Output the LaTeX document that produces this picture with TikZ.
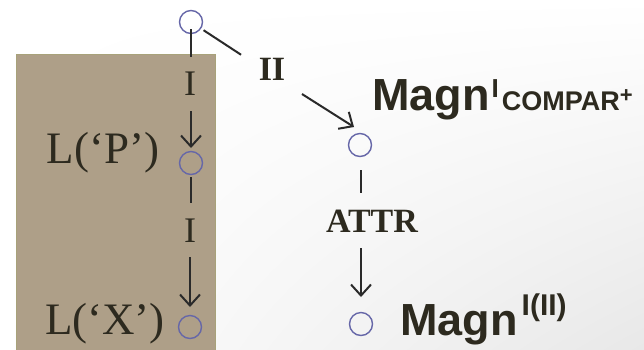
\documentclass[tikz,border=0pt]{standalone}
\usepackage{fontspec}
\setmainfont{Liberation Serif}
\newfontfamily\sansb{Liberation Sans}
\usetikzlibrary{arrows.meta,shadings}
\definecolor{ink}{HTML}{2D2A1F}
\definecolor{ringc}{HTML}{6667A8}
\definecolor{boxfill}{HTML}{AE9F88}
\definecolor{boxedge}{HTML}{A8A27A}
\definecolor{linec}{HTML}{2A2A2A}
\tikzset{
  ring/.style={circle, draw=ringc, line width=1.4pt, minimum size=23pt, inner sep=0pt},
  conn/.style={draw=linec, line width=2pt},
  arr/.style={conn, -{Straight Barb[length=11pt,width=20pt,line width=2pt]}},
  rlbl/.style={inner sep=0pt, anchor=base, text=ink, font=\fontsize{36}{40}\selectfont},
  blbl/.style={inner sep=0pt, anchor=base, text=ink, font=\fontsize{34}{38}\selectfont\bfseries},
  biglbl/.style={inner sep=0pt, anchor=base, text=ink, font=\fontsize{45}{50}\selectfont},
  magn/.style={inner sep=0pt, anchor=base west, text=ink, font=\sansb\bfseries\fontsize{45}{50}\selectfont}
}
\begin{document}
\begin{tikzpicture}[x=1pt, y=-1pt]
\useasboundingbox (0,0) rectangle (644,349);
\shade[upper left=white, upper right=white, lower left=white, lower right=black!9] (0,0) rectangle (644,349);
% brown box
\fill[boxfill] (16,54) rectangle (215,350);
\draw[boxedge, line width=1pt] (16,350) -- (16,54) -- (215,54) -- (215,350);
% circles
\node[ring] (c1) at (191,22) {};
\node[ring] (c2) at (191,163) {};
\node[ring] (c3) at (190,327) {};
\node[ring] (c4) at (360,145) {};
\node[ring] (c5) at (361,324) {};
% labels
\node[biglbl] (lp) at (103,163) {L(‘P’)};
\node[biglbl] (lx) at (105,334) {L(‘X’)};
\node[rlbl] (i1) at (190,95) {I};
\node[rlbl] (i2) at (190,242) {I};
\node[blbl] (ii) at (272,80) {II};
\node[blbl] (attr) at (372,232) {ATTR};
\coordinate (iiAt) at (272,75);
\coordinate (tipA) at (354,127);
% connectors
\draw[conn, shorten <=7pt, shorten >=26pt] (c1.center) -- (c1.center |- i1.center);
\draw[arr, shorten <=28pt, shorten >=15pt] (c2.center |- i1.center) -- (c2.center);
\draw[conn, shorten <=14pt, shorten >=27pt] (c2.center) -- (c2.center |- i2.center);
\draw[arr, shorten <=27pt, shorten >=20pt] (c3.center |- i2.center) -- (c3.center);
\draw[conn, shorten <=15pt, shorten >=37pt] (c1.center) -- (iiAt);
\draw[arr, shorten <=35.5pt] (iiAt) -- (tipA);
\draw[conn, shorten <=25pt, shorten >=27.5pt] (c5.center |- c4.center) -- (c5.center |- attr.center);
\draw[arr, shorten <=27.5pt, shorten >=27pt] (c5.center |- attr.center) -- (c5.center);
% Magn labels
\node[magn] (m1) at (372,110) {Magn\hspace{2pt}\raisebox{13pt}{\fontsize{26}{28}\selectfont I}\hspace{3pt}{\fontsize{27}{30}\selectfont COMPAR}\raisebox{8pt}{\fontsize{22}{24}\selectfont +}};
\node[magn] (m2) at (400,335) {Magn\hspace{4pt}\raisebox{20pt}{\fontsize{30}{32}\selectfont I(II)}};
\end{tikzpicture}
\end{document}
